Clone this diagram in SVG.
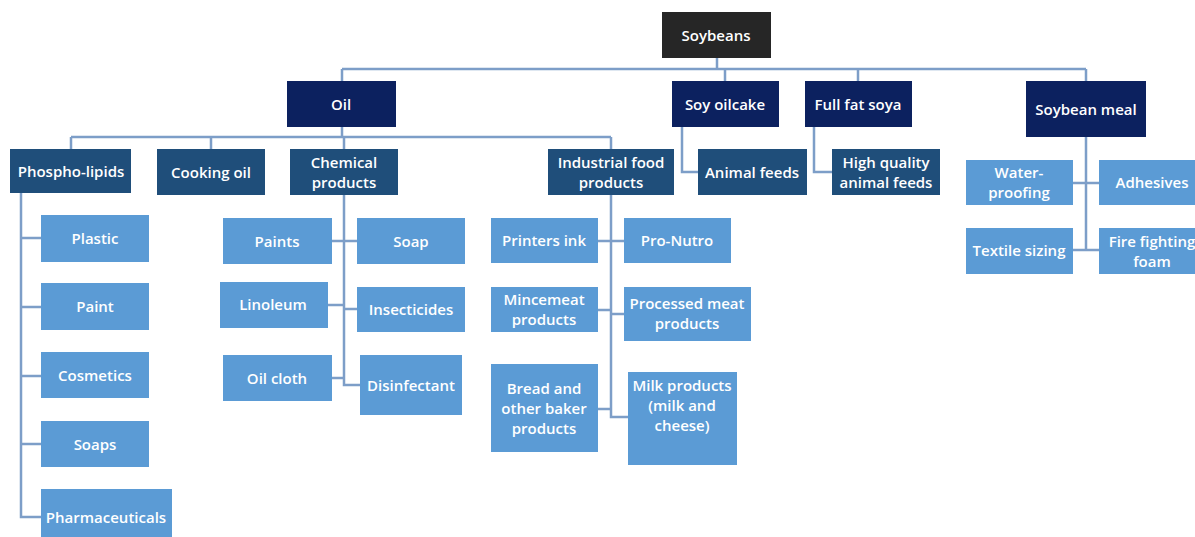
<svg xmlns="http://www.w3.org/2000/svg" width="1195" height="537" viewBox="0 0 1195 537">
  <style>
    .root { fill: #262626; }
    .l1 { fill: #0c215f; }
    .l2 { fill: #1f4e7a; }
    .l3 { fill: #5b9bd5; }
    text { font-family: "Open Sans", Lato, "Liberation Sans", sans-serif; font-size: 15px; font-weight: 600; fill: #ffffff; text-anchor: middle; dominant-baseline: central; }
    .wire { fill: none; stroke: #7d9ec8; stroke-width: 2.5; }
  </style>
  <rect width="1195" height="537" fill="#ffffff"/>

  <!-- connectors -->
  <g id="connectors" class="wire">
    <path d="M717 58 V69 M342 69 H1086 M342 69 V81 M725 69 V81 M858 69 V81 M1086 69 V81"/>
    <path d="M342 127 V137 M71 137 H611 M71 137 V149 M211 137 V149 M344 137 V149 M611 137 V149"/>
    <path d="M682 127 V172 H698"/>
    <path d="M814 127 V172 H832"/>
    <path d="M1086 137 V250 M1073 183 H1099 M1073 250 H1099"/>
    <path d="M21 193 V517 H41 M21 238 H41 M21 307 H41 M21 376 H41 M21 444 H41"/>
    <path d="M344 195 V385 H360 M332 241 H357 M328 305 H344 M344 309 H357 M332 378 H344"/>
    <path d="M611 195 V417 H628 M598 241 H624 M598 310 H611 M611 314 H624 M598 409 H611"/>
  </g>

  <!-- top -->
  <g id="soybeans"><rect class="root" x="662" y="12" width="109" height="46"/><text x="716" y="35">Soybeans</text></g>

  <!-- first level -->
  <g id="oil"><rect class="l1" x="287" y="81" width="109" height="46"/><text x="341" y="104">Oil</text></g>
  <g id="soy-oilcake"><rect class="l1" x="672" y="81" width="107" height="46"/><text x="725" y="104">Soy oilcake</text></g>
  <g id="full-fat-soya"><rect class="l1" x="805" y="81" width="107" height="46"/><text x="858" y="104">Full fat soya</text></g>
  <g id="soybean-meal"><rect class="l1" x="1026" y="81" width="120" height="56"/><text x="1086" y="109">Soybean meal</text></g>

  <!-- second level -->
  <g id="phospho-lipids"><rect class="l2" x="10" y="149" width="121" height="44"/><text x="71" y="171">Phospho-lipids</text></g>
  <g id="cooking-oil"><rect class="l2" x="157" y="149" width="108" height="46"/><text x="211" y="172">Cooking oil</text></g>
  <g id="chemical-products"><rect class="l2" x="290" y="149" width="108" height="46"/><text x="344" y="162">Chemical</text><text x="344" y="182">products</text></g>
  <g id="industrial-food"><rect class="l2" x="548" y="149" width="126" height="46"/><text x="611" y="162">Industrial food</text><text x="611" y="182">products</text></g>
  <g id="animal-feeds"><rect class="l2" x="698" y="149" width="109" height="46"/><text x="752" y="172">Animal feeds</text></g>
  <g id="high-quality-feeds"><rect class="l2" x="832" y="149" width="108" height="46"/><text x="886" y="162">High quality</text><text x="886" y="182">animal feeds</text></g>

  <!-- phospho-lipid uses -->
  <g id="plastic"><rect class="l3" x="41" y="215" width="108" height="47"/><text x="95" y="238">Plastic</text></g>
  <g id="paint"><rect class="l3" x="41" y="283" width="108" height="47"/><text x="95" y="306">Paint</text></g>
  <g id="cosmetics"><rect class="l3" x="41" y="352" width="108" height="46"/><text x="95" y="375">Cosmetics</text></g>
  <g id="soaps"><rect class="l3" x="41" y="421" width="108" height="46"/><text x="95" y="444">Soaps</text></g>
  <g id="pharmaceuticals"><rect class="l3" x="41" y="489" width="131" height="52"/><text x="106" y="517">Pharmaceuticals</text></g>

  <!-- chemical products -->
  <g id="paints"><rect class="l3" x="223" y="218" width="109" height="46"/><text x="277" y="241">Paints</text></g>
  <g id="soap"><rect class="l3" x="357" y="218" width="108" height="46"/><text x="411" y="241">Soap</text></g>
  <g id="linoleum"><rect class="l3" x="220" y="282" width="108" height="46"/><text x="273" y="304">Linoleum</text></g>
  <g id="insecticides"><rect class="l3" x="357" y="287" width="108" height="45"/><text x="411" y="309">Insecticides</text></g>
  <g id="oil-cloth"><rect class="l3" x="223" y="355" width="109" height="46"/><text x="277" y="378">Oil cloth</text></g>
  <g id="disinfectant"><rect class="l3" x="360" y="355" width="102" height="60"/><text x="411" y="385">Disinfectant</text></g>

  <!-- industrial food products -->
  <g id="printers-ink"><rect class="l3" x="491" y="218" width="107" height="45"/><text x="544" y="240">Printers ink</text></g>
  <g id="pro-nutro"><rect class="l3" x="624" y="218" width="107" height="45"/><text x="677" y="240">Pro-Nutro</text></g>
  <g id="mincemeat"><rect class="l3" x="491" y="287" width="107" height="45"/><text x="544" y="299">Mincemeat</text><text x="544" y="319">products</text></g>
  <g id="processed-meat"><rect class="l3" x="624" y="287" width="127" height="54"/><text x="687" y="303">Processed meat</text><text x="687" y="323">products</text></g>
  <g id="bread"><rect class="l3" x="491" y="364" width="107" height="88"/><text x="544" y="388">Bread and</text><text x="544" y="408">other baker</text><text x="544" y="428">products</text></g>
  <g id="milk-products"><rect class="l3" x="628" y="372" width="109" height="93"/><text x="682" y="385">Milk products</text><text x="682" y="405">(milk and</text><text x="682" y="425">cheese)</text></g>

  <!-- soybean meal uses -->
  <g id="water-proofing"><rect class="l3" x="966" y="160" width="107" height="45"/><text x="1019" y="172">Water-</text><text x="1019" y="192">proofing</text></g>
  <g id="adhesives"><rect class="l3" x="1099" y="160" width="107" height="45"/><text x="1152" y="182">Adhesives</text></g>
  <g id="textile-sizing"><rect class="l3" x="966" y="228" width="107" height="46"/><text x="1019" y="250">Textile sizing</text></g>
  <g id="fire-fighting-foam"><rect class="l3" x="1099" y="228" width="107" height="46"/><text x="1152" y="241">Fire fighting</text><text x="1152" y="261">foam</text></g>
</svg>
